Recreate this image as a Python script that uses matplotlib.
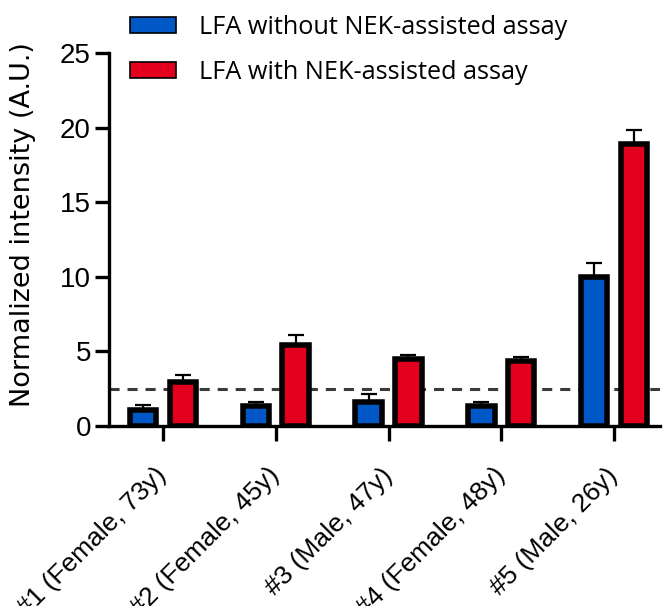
import matplotlib
matplotlib.use("Agg")
import matplotlib.pyplot as plt
import numpy as np
from matplotlib.patches import Patch

categories = ["#1 (Female, 73y)", "#2 (Female, 45y)", "#3 (Male, 47y)",
              "#4 (Female, 48y)", "#5 (Male, 26y)"]
without_vals = [1.07, 1.34, 1.64, 1.34, 10.0]
without_err = [0.33, 0.27, 0.48, 0.27, 0.9]
with_vals = [2.98, 5.41, 4.51, 4.36, 18.9]
with_err = [0.44, 0.69, 0.25, 0.27, 0.97]
cutoff = 2.5
series_labels = ["LFA without NEK-assisted assay", "LFA with NEK-assisted assay"]
yticks = [0, 5, 10, 15, 20, 25]

blue = "#0057C6"
red = "#E3001F"

fig = plt.figure(figsize=(6.63, 6.06), dpi=100)
ax = fig.add_axes([109/663, 1-426/606, (660-109)/663, (426-53)/606])

x = np.arange(len(categories))
off = 0.177
w = 0.235
ax.bar(x - off, without_vals, w, color=blue, edgecolor="black", linewidth=4, zorder=3)
ax.bar(x + off, with_vals, w, color=red, edgecolor="black", linewidth=4, zorder=3)
ax.errorbar(x - off, without_vals, yerr=[np.zeros(5), without_err], fmt="none",
            ecolor="black", elinewidth=1.6, capsize=5.8, capthick=1.6, zorder=2)
ax.errorbar(x + off, with_vals, yerr=[np.zeros(5), with_err], fmt="none",
            ecolor="black", elinewidth=1.6, capsize=5.8, capthick=1.6, zorder=2)
ax.axhline(cutoff, color="#3a3a3a", linewidth=2.2, linestyle=(0, (3.3, 2.6)), zorder=1)

ax.set_xlim(-0.479, 4.408)
ax.set_ylim(0, 25)
ax.set_yticks(yticks)
ax.set_yticklabels([str(t) for t in yticks], fontsize=20, family="Liberation Sans")
ax.set_xticks(x)
ax.set_xticklabels(categories, rotation=45, ha="right", va="center",
                   rotation_mode="anchor", fontsize=19, family="Liberation Sans")
for s in ["top", "right"]:
    ax.spines[s].set_visible(False)
for s in ["left", "bottom"]:
    ax.spines[s].set_linewidth(2.4)
ax.tick_params(axis="both", width=2.4, direction="out")
ax.tick_params(axis="y", length=10, pad=3)
ax.tick_params(axis="x", length=11, pad=22)
ax.set_ylabel("Normalized intensity (A.U.)", fontsize=19.5, family="DejaVu Sans")
ax.yaxis.set_label_coords(-0.1325, 0.539)

handles = [Patch(facecolor=blue, edgecolor="black", linewidth=1.2),
           Patch(facecolor=red, edgecolor="black", linewidth=1.2)]
fig.legend(handles, series_labels, loc="upper left", bbox_to_anchor=(130/663, 1-15/606),
           frameon=False, prop={"family": "Open Sans", "size": 18.2},
           handlelength=1.82, handleheight=0.6, handletextpad=0.9, labelspacing=0.8,
           borderaxespad=0, borderpad=0)

fig.savefig("out.png", dpi=100)
